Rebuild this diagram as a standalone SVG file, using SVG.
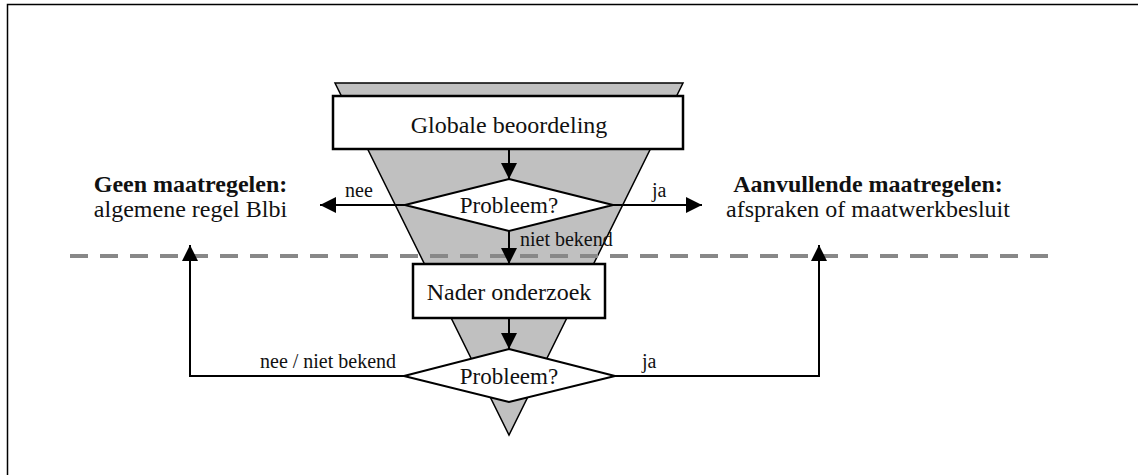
<svg xmlns="http://www.w3.org/2000/svg" width="1138" height="475" viewBox="0 0 1138 475">
<style>
.t{font-family:"Liberation Serif","Times New Roman",serif;fill:#111}
.m{font-size:24px}
.p{font-size:23px}
.s{font-size:20px}
.b{font-weight:bold}
.box{fill:#fff;stroke:#000;stroke-width:2.5}
.dia{fill:#fff;stroke:#000;stroke-width:2}
.c{fill:none;stroke:#000;stroke-width:2}
</style>
<defs>
<marker id="ah" viewBox="0 0 16 16" refX="16" refY="8" markerWidth="16" markerHeight="16" markerUnits="userSpaceOnUse" orient="auto"><path d="M0,0 L16,8 L0,16 z" fill="#000"/></marker>
</defs>
<rect width="1138" height="475" fill="#fff"/>
<path d="M7.5,475 V4.5 H1138" fill="none" stroke="#000" stroke-width="1.5"/>
<g id="funnel">
<polygon points="335,83 683,83 509,435" fill="#c0c0c0" stroke="#000" stroke-width="1.5"/>
</g>
<g id="divider">
<line x1="70" y1="256" x2="1053" y2="256" stroke="#888" stroke-width="4" stroke-dasharray="18,12"/>
</g>
<g id="connectors">
<line class="c" x1="509" y1="149" x2="509" y2="179" marker-end="url(#ah)"/>
<line class="c" x1="405" y1="205" x2="320" y2="205" marker-end="url(#ah)"/>
<line class="c" x1="613" y1="205" x2="702" y2="205" marker-end="url(#ah)"/>
<line class="c" x1="509" y1="231" x2="509" y2="264" marker-end="url(#ah)"/>
<line class="c" x1="509" y1="318" x2="509" y2="349" marker-end="url(#ah)"/>
<path class="c" d="M404,376 H190 V245" marker-end="url(#ah)"/>
<path class="c" d="M615,376 H819 V245" marker-end="url(#ah)"/>
<text class="t s" x="345" y="197">nee</text>
<text class="t s" x="652" y="197">ja</text>
<text class="t s" x="520" y="246">niet bekend</text>
<text class="t s" x="260" y="368">nee / niet bekend</text>
<text class="t s" x="642" y="368">ja</text>
</g>
<g id="globale">
<rect class="box" x="333" y="96" width="350" height="53"/>
<text class="t m" x="509" y="133" text-anchor="middle">Globale beoordeling</text>
</g>
<g id="probleem1">
<polygon class="dia" points="509,179 613,205 509,231 405,205"/>
<text class="t p" x="509" y="213" text-anchor="middle">Probleem?</text>
</g>
<g id="nader">
<rect class="box" x="413" y="264" width="192" height="54" stroke-width="3"/>
<text class="t m" x="509" y="300" text-anchor="middle">Nader onderzoek</text>
</g>
<g id="probleem2">
<polygon class="dia" points="509,349 615,376 509,402 404,376"/>
<text class="t p" x="509" y="384" text-anchor="middle">Probleem?</text>
</g>
<g id="geen">
<text class="t m b" x="190.5" y="192" text-anchor="middle">Geen maatregelen:</text>
<text class="t m" x="190.5" y="217" text-anchor="middle">algemene regel Blbi</text>
</g>
<g id="aanvullend">
<text class="t m b" x="868" y="192" text-anchor="middle">Aanvullende maatregelen:</text>
<text class="t m" x="868" y="217" text-anchor="middle">afspraken of maatwerkbesluit</text>
</g>
</svg>
